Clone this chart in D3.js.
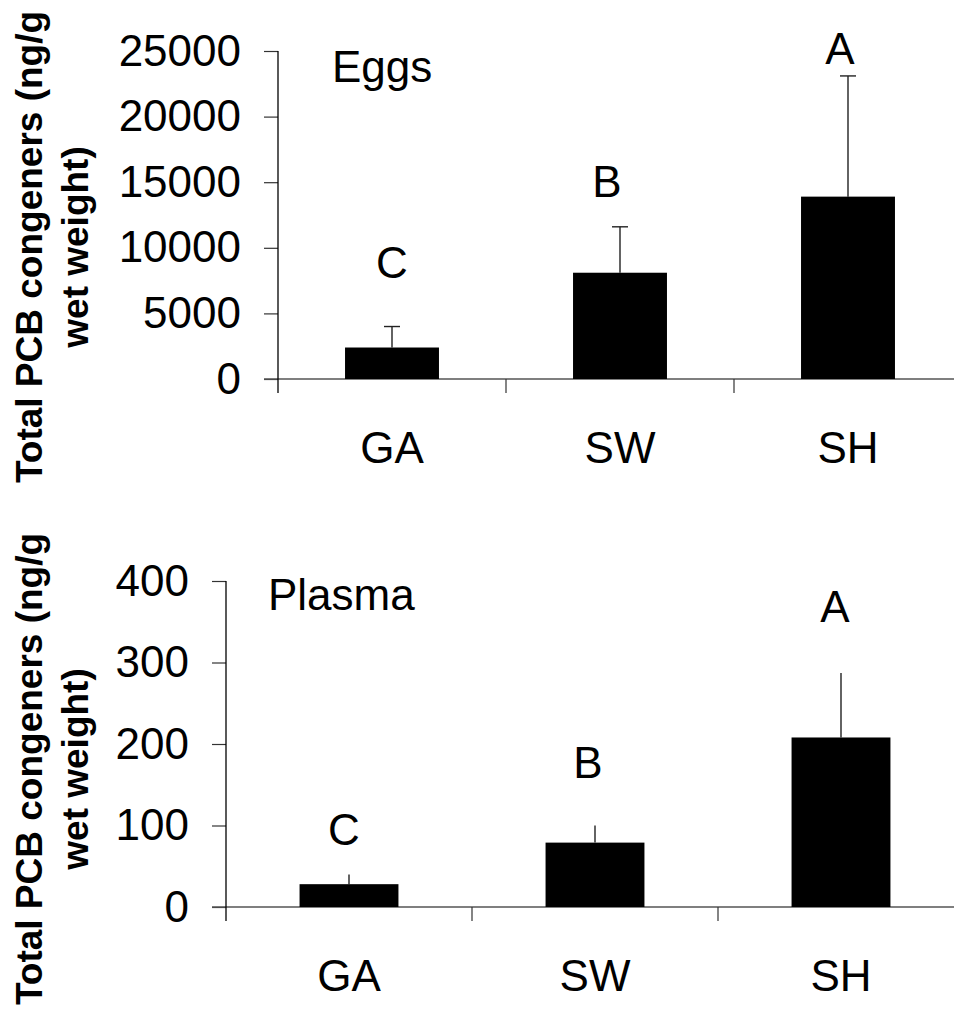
<!DOCTYPE html>
<html>
<head>
<meta charset="utf-8">
<script src="https://cdn.jsdelivr.net/npm/d3@7/dist/d3.min.js"></script>
<style>
  body { margin: 0; background: #fff; }
  svg { display: block; }
  text { font-family: "Liberation Sans", Arial, Helvetica, sans-serif; fill: #000; }
</style>
</head>
<body>
<svg id="chart" width="954" height="1010"></svg>
<script>
// Total PCB congeners by site (mean + upper error), eggs and plasma
const sites = ["GA", "SW", "SH"];

const eggMeans = [2400, 8100, 13900];
const eggErrors = [1600, 3500, 9200];
const eggTicks = [0, 5000, 10000, 15000, 20000, 25000];
const eggLetters = ["C", "B", "A"];
const eggLetterLevels = [7700, 13900, 24000];

const plasmaMeans = [28, 79, 208];
const plasmaErrors = [12, 21, 79];
const plasmaTicks = [0, 100, 200, 300, 400];
const plasmaLetters = ["C", "B", "A"];
const plasmaLetterLevels = [76, 158, 350];

const yTitle = ["Total PCB congeners (ng/g", "wet weight)"];

const svg = d3.select("#chart");

function drawPanel(cfg) {
  const g = svg.append("g");
  const y = d3.scaleLinear().domain([0, cfg.ticks[cfg.ticks.length - 1]]).range([cfg.bottom, cfg.top]);
  const x = d3.scaleBand().domain(cfg.cats).range([cfg.left, cfg.right])
    .paddingInner(cfg.pad).paddingOuter(cfg.pad / 2);
  const step = x.step();
  const bw = x.bandwidth();

  // y axis with outward ticks
  const yAxis = d3.axisLeft(y).tickValues(cfg.ticks).tickSize(14).tickPadding(23)
    .tickFormat(d3.format("d"));
  const ya = g.append("g").attr("transform", `translate(${cfg.left},0)`).call(yAxis);
  ya.select(".domain").remove();
  ya.selectAll(".tick line").attr("stroke", "#333").attr("stroke-width", 1.2);
  ya.selectAll(".tick text").style("font-size", "44px").attr("fill", "#000");

  // x axis baseline and category separators
  g.append("line")
    .attr("x1", cfg.left - 14).attr("x2", cfg.right)
    .attr("y1", y(0)).attr("y2", y(0))
    .attr("stroke", "#555").attr("stroke-width", 1.4);
  g.selectAll(".sep").data(d3.range(1, cfg.cats.length + 1)).join("line")
    .attr("x1", i => cfg.left + i * step).attr("x2", i => cfg.left + i * step)
    .attr("y1", y(0)).attr("y2", y(0) + 14)
    .attr("stroke", "#333").attr("stroke-width", 1.2);

  // y axis spine, running a little below zero
  g.append("line")
    .attr("x1", cfg.left).attr("x2", cfg.left)
    .attr("y1", y(cfg.ticks[cfg.ticks.length - 1])).attr("y2", y(0) + 14)
    .attr("stroke", "#000").attr("stroke-width", 1.3);

  const rows = cfg.cats.map((c, i) => ({
    cat: c, mean: cfg.means[i], err: cfg.errors[i],
    letter: cfg.letters[i], level: cfg.levels[i], dx: cfg.letterDx[i]
  }));

  // error bars (upper only)
  g.selectAll(".err").data(rows).join("line")
    .attr("x1", d => x(d.cat) + bw / 2).attr("x2", d => x(d.cat) + bw / 2)
    .attr("y1", d => y(d.mean)).attr("y2", d => y(d.mean + d.err))
    .attr("stroke", "#222").attr("stroke-width", 1.4);
  if (cfg.caps) {
    g.selectAll(".cap").data(rows).join("line")
      .attr("x1", d => x(d.cat) + bw / 2 - 8).attr("x2", d => x(d.cat) + bw / 2 + 8)
      .attr("y1", d => y(d.mean + d.err)).attr("y2", d => y(d.mean + d.err))
      .attr("stroke", "#222").attr("stroke-width", 1.4);
  }

  // bars
  g.selectAll(".bar").data(rows).join("rect")
    .attr("x", d => x(d.cat)).attr("width", bw)
    .attr("y", d => y(d.mean)).attr("height", d => y(0) - y(d.mean))
    .attr("fill", "#000");

  // significance letters
  g.selectAll(".letter").data(rows).join("text")
    .attr("x", d => x(d.cat) + bw / 2 + d.dx).attr("y", d => y(d.level))
    .attr("text-anchor", "middle").style("font-size", "44px")
    .text(d => d.letter);

  // category labels
  g.selectAll(".cat").data(rows).join("text")
    .attr("x", d => x(d.cat) + bw / 2).attr("y", cfg.catBaseline)
    .attr("text-anchor", "middle").style("font-size", "44px")
    .text(d => d.cat);

  // panel label
  g.append("text")
    .attr("x", cfg.left + cfg.labelDx).attr("y", y(cfg.ticks[cfg.ticks.length - 1]) + cfg.labelDy)
    .style("font-size", "44px").text(cfg.label);

  // y axis title, two lines
  const t = g.append("text")
    .attr("transform", `translate(0,${cfg.titleY}) rotate(-90)`)
    .attr("text-anchor", "middle").style("font-size", "37px").style("font-weight", "bold");
  t.append("tspan").attr("x", 0).attr("y", 42).text(yTitle[0]);
  t.append("tspan").attr("x", 0).attr("y", 88).text(yTitle[1]);
}

drawPanel({
  cats: sites, means: eggMeans, errors: eggErrors, ticks: eggTicks,
  letters: eggLetters, levels: eggLetterLevels, letterDx: [0, -13, -8],
  top: 51, bottom: 379, left: 278, right: 962, pad: 0.588,
  caps: true, catBaseline: 463, label: "Eggs", labelDx: 54, labelDy: 31, titleY: 247
});

drawPanel({
  cats: sites, means: plasmaMeans, errors: plasmaErrors, ticks: plasmaTicks,
  letters: plasmaLetters, levels: plasmaLetterLevels, letterDx: [-5, -7, -6],
  top: 581, bottom: 907, left: 226, right: 964, pad: 0.598,
  caps: false, catBaseline: 991, label: "Plasma", labelDx: 42, labelDy: 29, titleY: 769
});
</script>
</body>
</html>
